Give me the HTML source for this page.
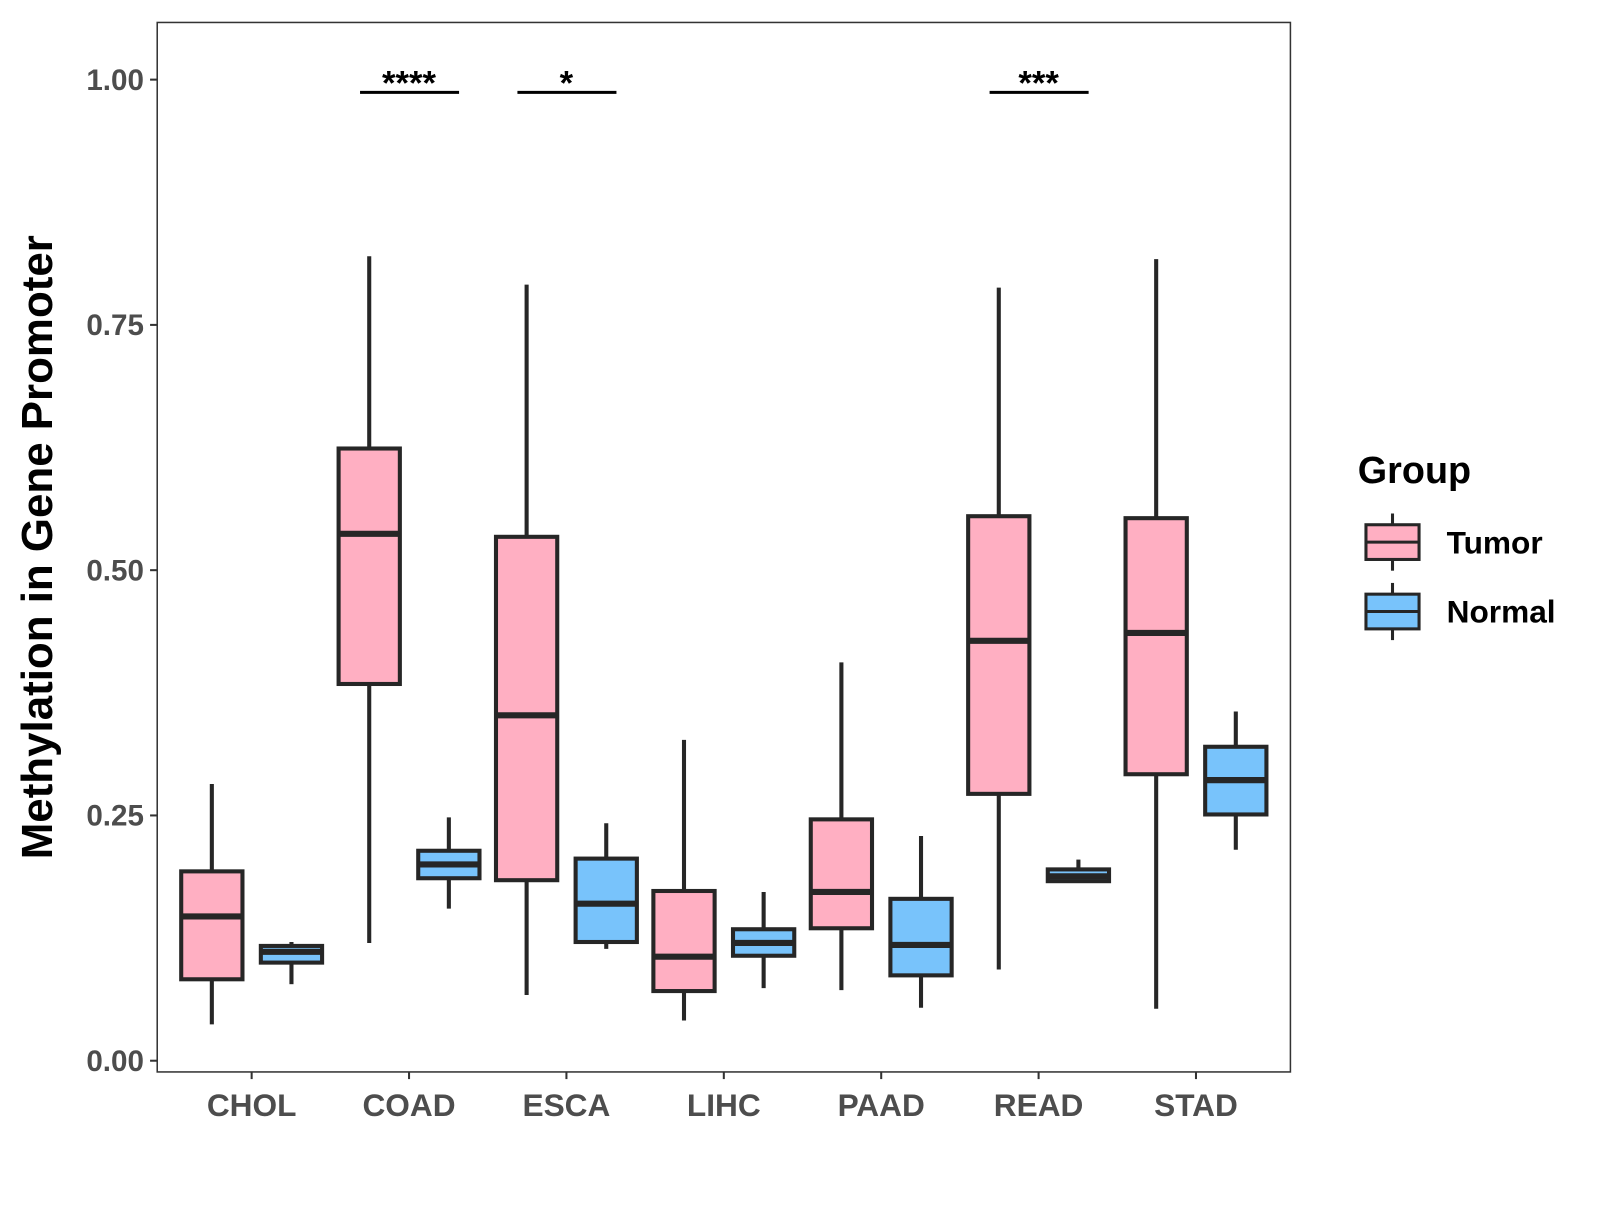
<!DOCTYPE html>
<html><head><meta charset="utf-8"><style>
body{margin:0;background:#fff}
svg text{font-family:"Liberation Sans",Arial,sans-serif;font-weight:bold}
</style></head><body>
<svg width="1600" height="1200" viewBox="0 0 1600 1200"><g id="chart" transform="scale(1.0209)"></g></svg>
<script>
const categories=["CHOL","COAD","ESCA","LIHC","PAAD","READ","STAD"];
// [min,q1,median,q3,max]
const tumor=[[0.037,0.083,0.147,0.193,0.282],[0.120,0.384,0.537,0.624,0.820],[0.067,0.184,0.352,0.534,0.791],[0.041,0.071,0.106,0.173,0.327],[0.072,0.135,0.172,0.246,0.406],[0.093,0.272,0.428,0.555,0.788],[0.053,0.292,0.436,0.553,0.817]];
const normal=[[0.078,0.100,0.111,0.117,0.121],[0.155,0.186,0.200,0.214,0.248],[0.114,0.121,0.160,0.206,0.242],[0.074,0.107,0.120,0.134,0.172],[0.054,0.087,0.118,0.165,0.229],[0.182,0.183,0.188,0.195,0.205],[0.215,0.251,0.286,0.320,0.356]];
const yTicks=[0,0.25,0.5,0.75,1.0];
const yTickLabels=["0.00","0.25","0.50","0.75","1.00"];
const sigCats=["COAD","ESCA","READ"];
const sigLabels=["****","*","***"];
const sigY=[0.987,0.987,0.987];

const NS="http://www.w3.org/2000/svg";
const svg=document.getElementById('chart');
const L=154,R=1264,T=22,B=1050;
const step=(R-L)/7.2;
const x=i=>L+step*(0.6+i);
const y=v=>1039-v*961;
function el(t,a,p){const e=document.createElementNS(NS,t);for(const k in a)e.setAttribute(k,a[k]);(p||svg).appendChild(e);return e;}

const panel=el('rect',{x:L,y:T,width:R-L,height:B-T,fill:'#fff',stroke:'#333','stroke-width':1.5});



yTicks.forEach((v,i)=>{
  const tk=el('line',{x1:L-7,x2:L,y1:y(v),y2:y(v),stroke:'#333','stroke-width':2});
  
  
  const t=el('text',{x:L-13,y:y(v)+10,'text-anchor':'end','font-size':29,fill:'#4d4d4d'});
  t.textContent=yTickLabels[i];
  
  
});
categories.forEach((c,i)=>{
  const tk=el('line',{x1:x(i),x2:x(i),y1:B,y2:B+7,stroke:'#333','stroke-width':2});
  
  
  const t=el('text',{x:x(i),y:1093,'text-anchor':'middle','font-size':31,fill:'#4d4d4d'});
  t.textContent=c;
  
  
});
const yt=el('text',{x:0,y:0,transform:'translate(51,536) rotate(-90)','text-anchor':'middle','font-size':43,fill:'#000'});
yt.textContent='Methylation in Gene Promoter';



function box(cx,s,fill,name){
  const g=el('g',{});
  
  
  const w=60;
  el('line',{x1:cx,x2:cx,y1:y(s[4]),y2:y(s[0]),stroke:'#262626','stroke-width':4},g);
  el('rect',{x:cx-w/2,y:y(s[3]),width:w,height:y(s[1])-y(s[3]),fill:fill,stroke:'#262626','stroke-width':4},g);
  el('line',{x1:cx-w/2,x2:cx+w/2,y1:y(s[2]),y2:y(s[2]),stroke:'#262626','stroke-width':6},g);
}
categories.forEach((c,i)=>{
  box(x(i)-39,tumor[i],'#ffafc2','box-tumor-'+c.toLowerCase());
  box(x(i)+39,normal[i],'#78c3fb','box-normal-'+c.toLowerCase());
});
sigCats.forEach((c,k)=>{
  const i=categories.indexOf(c);
  const ln=el('line',{x1:x(i)-48,x2:x(i)+49,y1:y(sigY[k]),y2:y(sigY[k]),stroke:'#000','stroke-width':3});
  
  
  const t=el('text',{x:x(i),y:y(sigY[k])+2,'text-anchor':'middle','font-size':34,fill:'#000'});
  t.textContent=sigLabels[k];
  
  
});
const lt=el('text',{x:1330,y:473,'font-size':37,fill:'#000'});
lt.textContent='Group';


[['Tumor','#ffafc2',531],['Normal','#78c3fb',599]].forEach(([n,f,cy])=>{
  const g=el('g',{});
  
  
  el('line',{x1:1364,x2:1364,y1:cy-28,y2:cy+28,stroke:'#262626','stroke-width':3},g);
  el('rect',{x:1338,y:cy-17,width:52,height:34,fill:f,stroke:'#262626','stroke-width':3},g);
  el('line',{x1:1338,x2:1390,y1:cy,y2:cy,stroke:'#262626','stroke-width':3},g);
  const t=el('text',{x:1417,y:cy+11,'font-size':31,fill:'#000'},g);
  t.textContent=n;
});
</script>
</body></html>
